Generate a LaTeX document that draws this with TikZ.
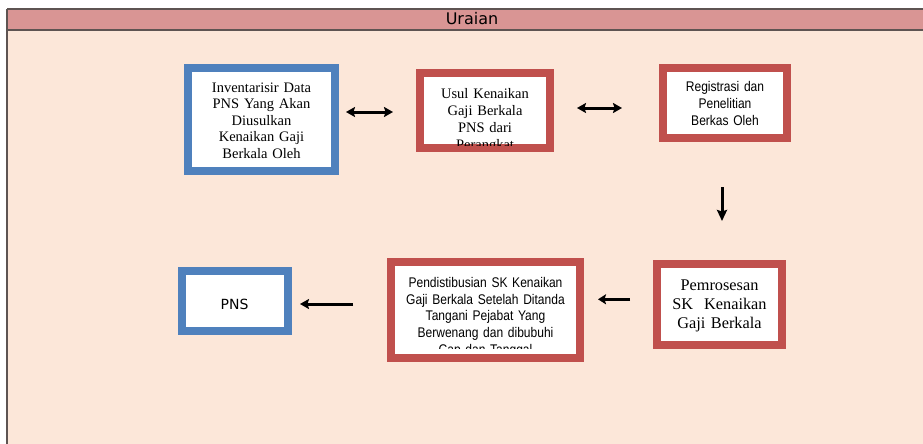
\documentclass[tikz,border=0pt]{standalone}
\usepackage{fontspec}
\setmainfont{Liberation Serif}
\newfontfamily\arialc[FakeStretch=0.86]{Liberation Sans}
\newfontfamily\dejavu{DejaVu Sans}
\usetikzlibrary{arrows.meta}
\definecolor{bodyc}{HTML}{FCE7D9}
\definecolor{headc}{HTML}{D99594}
\definecolor{gridc}{HTML}{5E5452}
\definecolor{blueb}{HTML}{4F81BD}
\definecolor{redb}{HTML}{C0504D}
\tikzset{
  bluebox/.style={draw=blueb, line width=8pt, fill=white, inner sep=0pt},
  redbox/.style={draw=redb, line width=8pt, fill=white, inner sep=0pt},
  boxtext/.style={anchor=base, align=center, text width=220pt, inner sep=0pt},
  conn/.style={line width=3pt, black},
  dblconn/.style={conn, arrows={Stealth[length=#1,width=10pt,inset=1.5pt]-Stealth[length=#1,width=10pt,inset=1.5pt]}},
  oneconn/.style={conn, arrows={-Stealth[length=#1,width=10pt,inset=1.5pt]}}
}
\begin{document}
\begin{tikzpicture}[x=1pt,y=-1pt]
\useasboundingbox (0,0) rectangle (923,444);
\fill[white] (0,0) rectangle (923,444);
\fill[bodyc] (7,9) rectangle (923,444);
\fill[headc] (7,9) rectangle (923,30);
\draw[gridc, line width=2pt] (7,9) -- (923,9);
\draw[gridc, line width=2pt] (7,30) -- (923,30);
\draw[gridc, line width=2pt] (7,9) -- (7,444);
\node[anchor=base, inner sep=0pt, font=\dejavu\fontsize{16}{19}\selectfont] (hdr) at (472,24.3) {Uraian};

% boxes
\node[bluebox, minimum width=147pt, minimum height=103pt] (b1) at (261.5,119.5) {};
\node[redbox, minimum width=130pt, minimum height=75.3pt] (b2) at (485,110.35) {};
\node[redbox, minimum width=124pt, minimum height=70pt] (b3) at (725,103) {};
\node[redbox, minimum width=125pt, minimum height=81pt] (b5) at (719.5,304.5) {};
\node[redbox, minimum width=189.6pt, minimum height=95.4pt] (b4) at (485.5,310) {};
\node[bluebox, minimum width=106pt, minimum height=60pt] (b6) at (235,301) {};

% texts
\node[boxtext, font=\fontsize{14.5}{16.5}\selectfont] (t1) at (261.5,92.3)
  {Inventarisir Data\\PNS Yang Akan\\Diusulkan\\Kenaikan Gaji\\Berkala Oleh};
\begin{scope}
\clip ([shift={(4pt,7pt)}]b2.south west) rectangle ([shift={(-4pt,-4pt)}]b2.north east);
\node[boxtext, font=\fontsize{14.5}{17}\selectfont] (t2) at (485,98.7)
  {Usul Kenaikan\\Gaji Berkala\\PNS dari\\Perangkat};
\end{scope}
\node[boxtext, font=\arialc\fontsize{14}{17}\selectfont] (t3) at (725,92)
  {Registrasi dan\\Penelitian\\Berkas Oleh};
\node[boxtext, font=\fontsize{16.3}{19}\selectfont] (t5) at (719.5,290.5)
  {Pemrosesan\\SK\ \ Kenaikan\\Gaji Berkala};
\begin{scope}
\clip ([shift={(4pt,13.7pt)}]b4.south west) rectangle ([shift={(-4pt,-4pt)}]b4.north east);
\node[boxtext, font=\arialc\fontsize{14}{16.7}\selectfont] (t4) at (485.5,287.3)
  {Pendistibusian SK Kenaikan\\Gaji Berkala Setelah Ditanda\\Tangani Pejabat Yang\\Berwenang dan dibubuhi\\Cap dan Tanggal};
\end{scope}
\node[anchor=base, inner sep=0pt, font=\dejavu\fontsize{14}{17}\selectfont] (t6) at (234.5,309.3) {PNS};

% connectors
\coordinate (a1s) at (346,112); \coordinate (a1e) at (393,112);
\coordinate (a2s) at (577,108); \coordinate (a2e) at (622,108);
\coordinate (a3s) at (722,187); \coordinate (a3e) at (722,221);
\coordinate (a4s) at (630,299.3); \coordinate (a4e) at (598,299.3);
\coordinate (a5s) at (353,304); \coordinate (a5e) at (300,304);
\draw[dblconn=9pt] (a1s) -- (a1e);
\draw[dblconn=9pt] (a2s) -- (a2e);
\draw[oneconn=11pt] (a3s) -- (a3e);
\draw[oneconn=8pt] (a4s) -- (a4e);
\draw[oneconn=9pt] (a5s) -- (a5e);
\end{tikzpicture}
\end{document}
